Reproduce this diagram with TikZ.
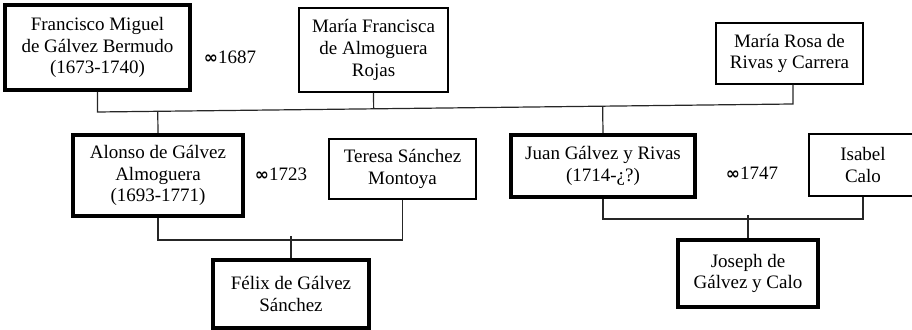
\documentclass[tikz,border=0pt]{standalone}
\usepackage{fontspec}
\setmainfont{Liberation Serif}
\newfontfamily\symfont{DejaVu Sans}
\usetikzlibrary{calc}
\newcommand{\wedsign}{{\symfont\bfseries\fontsize{8.5}{8.5}\selectfont ∞}}
\begin{document}
\begin{tikzpicture}[x=0.5pt,y=-0.5pt]
\tikzset{
  person/.style={draw=black, line width=0.6pt, align=center, inner sep=0pt,
    font=\fontsize{9.5}{10.8}\selectfont},
  heir/.style={person, line width=2pt},
  wed/.style={inner sep=0pt, font=\fontsize{9.5}{10.8}\selectfont},
  link/.style={draw=black!85, line width=0.6pt}
}
\useasboundingbox (0,0) rectangle (912,330);
\clip (0,0) rectangle (912,330);
% first generation
\node [heir, minimum width=92.5pt, minimum height=42.5pt] (fran) at (97.5,47.5)
  {Francisco Miguel\\de Gálvez Bermudo\\(1673-1740)};
\node [person, minimum width=74.5pt, minimum height=42pt] (mfran) at (373.5,50)
  {María Francisca\\de Almoguera\\Rojas};
\node [person, minimum width=73.5pt, minimum height=30.5pt] (mrosa) at (789.5,53.5)
  {María Rosa de\\Rivas y Carrera};
\node [wed] (wed1) at (230,57) {\wedsign1687};
% second generation
\node [heir, minimum width=85pt, minimum height=40.5pt] (alonso) at (158,175.5)
  {Alonso de Gálvez\\Almoguera\\(1693-1771)};
\node [person, minimum width=73.5pt, minimum height=30pt] (teresa) at (402.5,169)
  {Teresa Sánchez\\Montoya};
\node [wed] (wed2) at (281,174) {\wedsign1723};
\node [heir, minimum width=92pt, minimum height=31pt] (juan) at (603,166)
  {Juan Gálvez y Rivas\\(1714-¿?)};
\node [person, minimum width=54pt, minimum height=31pt, text width=50pt] (isabel) at (863,165)
  {Isabel\\Calo};
\node [wed] (wed3) at (752,173) {\wedsign1747};
% third generation
\node [heir, minimum width=78pt, minimum height=34pt] (felix) at (291,294)
  {Félix de Gálvez\\Sánchez};
\node [heir, minimum width=70pt, minimum height=33.5pt] (joseph) at (748,273.5)
  {Joseph de\\Gálvez y Calo};
% lines
\coordinate (bar-l) at ($(fran.south)+(0,20)$);
\coordinate (bar-r) at (793,104);
\draw [link] (fran.south) -- (bar-l) -- (bar-r) -- (mrosa.south -| bar-r);
\draw [link] (mfran.south) -- ($(bar-l)!(mfran.south)!(bar-r)$);
\draw [link] ($(bar-l)!(alonso.north)!(bar-r)$) -- (alonso.north);
\draw [link] ($(bar-l)!(juan.north)!(bar-r)$) -- (juan.north);
\draw [link] (alonso.south) -- ++(0,22) -| (teresa.south);
\draw [link] (felix.north) -- ++(0,-22);
\draw [link] (juan.south) -- ++(0,20) -| (isabel.south);
\draw [link] (joseph.north) -- ++(0,-23);
\end{tikzpicture}
\end{document}
